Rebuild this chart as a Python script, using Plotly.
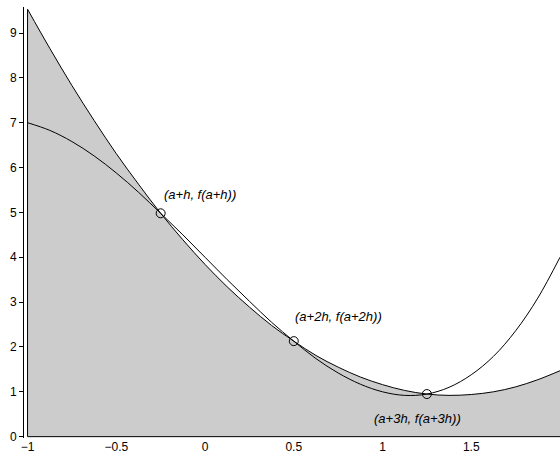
import plotly.graph_objects as go

# sample abscissae
x_vals = [-1, -0.875, -0.75, -0.625, -0.5, -0.375, -0.25, -0.125, 0, 0.125, 0.25, 0.375,
          0.5, 0.625, 0.75, 0.875, 1.0, 1.125, 1.25, 1.375, 1.5, 1.625, 1.75, 1.875, 2]
# function f(x) (thin curve)
f_vals = [7.0, 6.83, 6.58, 6.26, 5.88, 5.45, 4.98, 4.50, 4.00, 3.50, 3.02, 2.55,
          2.13, 1.74, 1.42, 1.17, 1.00, 0.92, 0.95, 1.10, 1.38, 1.79, 2.36, 3.09, 4.0]
# interpolating parabola (filled area)
p_vals = [9.53, 8.66, 7.83, 7.05, 6.31, 5.63, 4.98, 4.39, 3.84, 3.34, 2.89, 2.48,
          2.13, 1.81, 1.55, 1.33, 1.16, 1.03, 0.95, 0.92, 0.94, 1.00, 1.11, 1.27, 1.47]
# nodes
node_x = [-0.25, 0.5, 1.25]
node_y = [4.98, 2.13, 0.95]
node_labels = ["(a+h, f(a+h))", "(a+2h, f(a+2h))", "(a+3h, f(a+3h))"]
x_ticks = [-1, -0.5, 0, 0.5, 1, 1.5]
x_tick_text = ["\u22121", "\u22120.5", "0", "0.5", "1", "1.5"]
y_ticks = [0, 1, 2, 3, 4, 5, 6, 7, 8, 9]

FONT = "Liberation Sans, Arial, sans-serif"

fig = go.Figure()
fig.add_trace(go.Scatter(x=x_vals, y=p_vals, mode="lines", line=dict(color="black", width=1, shape="spline"),
                         fill="tozeroy", fillcolor="#cccccc", showlegend=False, hoverinfo="skip"))
# outline of left and bottom edges of the filled region
fig.add_trace(go.Scatter(x=[x_vals[0], x_vals[0], x_vals[-1]], y=[p_vals[0], 0, 0], mode="lines",
                         line=dict(color="black", width=1), showlegend=False, hoverinfo="skip"))
fig.add_trace(go.Scatter(x=x_vals, y=f_vals, mode="lines", line=dict(color="black", width=1, shape="spline"),
                         showlegend=False, hoverinfo="skip"))
fig.add_trace(go.Scatter(x=node_x, y=node_y, mode="markers",
                         marker=dict(symbol="circle-open", size=9, color="black", line=dict(width=1)),
                         showlegend=False, hoverinfo="skip"))

label_pos = [(-0.245, 5.4), (0.497, 2.68), (0.94, 0.40)]
for (lx, ly), txt in zip(label_pos, node_labels):
    fig.add_annotation(x=lx, y=ly, text=txt, showarrow=False, xanchor="left", yanchor="middle",
                       font=dict(family=FONT, size=13, color="black", style="italic"))

fig.update_layout(
    width=560, height=456,
    margin=dict(l=24, r=0, t=7, b=18),
    plot_bgcolor="white", paper_bgcolor="white",
    font=dict(family=FONT, size=12, color="black"),
)
fig.update_xaxes(range=[-1.02, 2], tickvals=x_ticks, ticktext=x_tick_text, showgrid=False,
                 zeroline=False, showline=False, ticks="")
fig.update_yaxes(range=[-0.03, 9.58], tickvals=y_ticks, showgrid=False, zeroline=False,
                 showline=True, linecolor="black", linewidth=1, ticks="outside", ticklen=4,
                 tickcolor="black", tickwidth=1)

fig.write_html("out.html", config={"displayModeBar": False, "staticPlot": True},
               post_script="document.body.style.margin='0px';document.body.style.overflow='hidden';")
